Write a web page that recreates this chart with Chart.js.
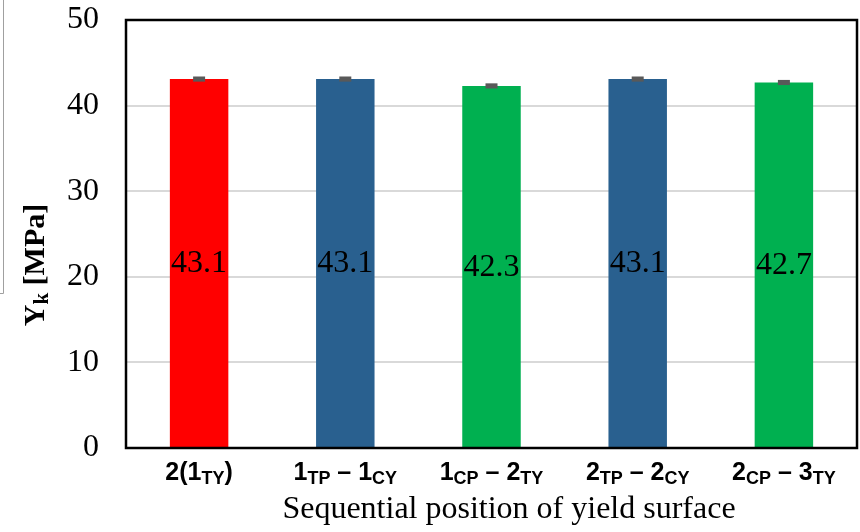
<!DOCTYPE html>
<html>
<head>
<meta charset="utf-8">
<script src="https://cdn.jsdelivr.net/npm/chart.js@4"></script>
<style>
  html, body { margin: 0; padding: 0; background: #fff; }
  #wrap { width: 860px; height: 532px; position: relative; }
</style>
</head>
<body>
<div id="wrap"><canvas id="myChart" width="860" height="532"></canvas></div>
<script>
const categories = ["2(1TY)", "1TP – 1CY", "1CP – 2TY", "2TP – 2CY", "2CP – 3TY"];
// label pieces: [text, isSubscript]
const labelParts = [
  [["2(1", false], ["TY", true], [")", false]],
  [["1", false], ["TP", true], [" – 1", false], ["CY", true]],
  [["1", false], ["CP", true], [" – 2", false], ["TY", true]],
  [["2", false], ["TP", true], [" – 2", false], ["CY", true]],
  [["2", false], ["CP", true], [" – 3", false], ["TY", true]]
];
const values = [43.1, 43.1, 42.3, 43.1, 42.7];
const errors = [0.3, 0.3, 0.3, 0.3, 0.3];
const barColors = ["#ff0000", "#29608f", "#00b050", "#29608f", "#00b050"];
const yTicks = [0, 10, 20, 30, 40, 50];

const serif = "'Liberation Serif', 'Times New Roman', serif";
const sans = "'Liberation Sans', Arial, sans-serif";

function drawParts(ctx, parts, cx, baseline, mainFont, subFont, subShift) {
  let total = 0;
  parts.forEach(([t, sub]) => {
    ctx.font = sub ? subFont : mainFont;
    total += ctx.measureText(t).width;
  });
  let x = cx - total / 2;
  parts.forEach(([t, sub]) => {
    ctx.font = sub ? subFont : mainFont;
    ctx.fillText(t, x, sub ? baseline + subShift : baseline);
    x += ctx.measureText(t).width;
  });
}

const extras = {
  id: "extras",
  afterDatasetsDraw(chart) {
    const ctx = chart.ctx;
    const area = chart.chartArea;
    const y = chart.scales.y;
    const meta = chart.getDatasetMeta(0);
    ctx.save();

    // plot frame
    ctx.strokeStyle = "#000";
    ctx.lineWidth = 2.5;
    ctx.strokeRect(area.left, area.top, area.right - area.left, area.bottom - area.top);

    // error caps
    ctx.fillStyle = "#595959";
    meta.data.forEach((bar, i) => {
      const top = y.getPixelForValue(values[i] + errors[i]);
      const bot = y.getPixelForValue(values[i] - errors[i]);
      ctx.fillRect(bar.x - 6, top, 12, bot - top);
    });

    // value labels
    ctx.fillStyle = "#000";
    ctx.font = "32px " + serif;
    ctx.textAlign = "center";
    ctx.textBaseline = "middle";
    meta.data.forEach((bar, i) => {
      ctx.fillText(values[i].toFixed(1), bar.x, (bar.y + bar.base) / 2 + 1);
    });

    // x tick labels with subscripts
    ctx.textAlign = "left";
    ctx.textBaseline = "alphabetic";
    meta.data.forEach((bar, i) => {
      drawParts(ctx, labelParts[i], bar.x, 480, "bold 25px " + sans, "bold 18px " + sans, 4);
    });

    // x title
    ctx.font = "32px " + serif;
    ctx.textAlign = "center";
    ctx.fillText("Sequential position of yield surface", 509, 518);

    // y title
    ctx.save();
    ctx.translate(44, 265);
    ctx.rotate(-Math.PI / 2);
    ctx.textAlign = "left";
    drawParts(ctx, [["Y", false], ["k", true], [" [MPa]", false]], 0, 0, "bold 30px " + serif, "bold 21px " + serif, 4);
    ctx.restore();

    // leftover border of neighbouring figure
    ctx.strokeStyle = "#a0a0a0";
    ctx.lineWidth = 1;
    ctx.beginPath();
    ctx.moveTo(3.5, 0);
    ctx.lineTo(3.5, 293.5);
    ctx.lineTo(0, 293.5);
    ctx.stroke();

    ctx.restore();
  }
};

new Chart(document.getElementById("myChart"), {
  type: "bar",
  data: {
    labels: categories,
    datasets: [{
      data: values,
      backgroundColor: barColors,
      barPercentage: 0.4,
      categoryPercentage: 1.0
    }]
  },
  options: {
    responsive: false,
    animation: false,
    layout: { padding: { top: 20, right: 3, left: 0, bottom: 0 } },
    plugins: { legend: { display: false }, tooltip: { enabled: false } },
    scales: {
      x: {
        grid: { display: false, drawTicks: false },
        border: { display: false },
        ticks: { display: false },
        afterFit: (s) => { s.height = 84; s.paddingLeft = 0; s.paddingRight = 0; }
      },
      y: {
        min: 0,
        max: 50,
        afterBuildTicks: (s) => { s.ticks = yTicks.map((v) => ({ value: v })); },
        grid: { color: "#d9d9d9", lineWidth: 2, drawTicks: false },
        border: { display: false },
        ticks: { color: "#000", font: { family: serif, size: 32 }, padding: 27 },
        afterFit: (s) => { s.width = 126; s.paddingTop = 0; s.paddingBottom = 0; }
      }
    }
  },
  plugins: [extras]
});
</script>
</body>
</html>
